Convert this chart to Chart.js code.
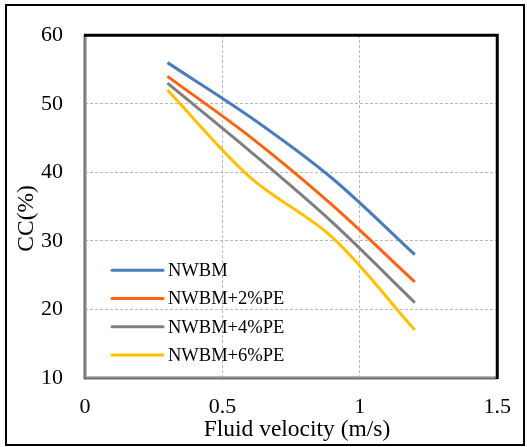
<!DOCTYPE html>
<html>
<head>
<meta charset="utf-8">
<script src="https://cdn.jsdelivr.net/npm/chart.js@4/dist/chart.umd.min.js"></script>
<style>
  html, body { margin: 0; padding: 0; background: #fff; }
  #wrap { width: 527px; height: 447px; }
</style>
</head>
<body>
<div id="wrap"><canvas id="ccChart" width="527" height="447"></canvas></div>
<script>
// data
const velocity = [0.3, 0.6, 0.9, 1.2];
const seriesNames = ['NWBM', 'NWBM+2%PE', 'NWBM+4%PE', 'NWBM+6%PE'];
const nwbm = [56, 48.1, 39.1, 28];
const nwbm2 = [54, 45.2, 35.2, 24];
const nwbm4 = [53, 43.1, 32.7, 21];
const nwbm6 = [52, 39.3, 30.5, 17];
const xTickLabels = ['0', '0.5', '1', '1.5'];
const yTickLabels = ['10', '20', '30', '40', '50', '60'];

const colors = ['#4a7ebb', '#ff6310', '#7f7f7f', '#ffc000'];
const serif = "'Liberation Serif', 'Times New Roman', serif";

const toPoints = vals => vals.map((v, i) => ({ x: velocity[i], y: v }));

// outer frame + plot border
const framePlugin = {
  id: 'frame',
  afterDraw(chart) {
    const { ctx, chartArea: a } = chart;
    ctx.save();
    ctx.strokeStyle = '#000';
    ctx.lineWidth = 2;
    ctx.strokeRect(6, 5, 518, 440);

    // left + bottom: grey edge
    ctx.strokeStyle = '#6e6e6e';
    ctx.lineWidth = 3;
    ctx.beginPath();
    ctx.moveTo(a.left, a.top);
    ctx.lineTo(a.left, a.bottom);
    ctx.lineTo(a.right, a.bottom);
    ctx.stroke();
    ctx.strokeStyle = '#b4b4b4';
    ctx.lineWidth = 1;
    ctx.beginPath();
    ctx.moveTo(a.left + 1, a.top);
    ctx.lineTo(a.left + 1, a.bottom - 1);
    ctx.lineTo(a.right, a.bottom - 1);
    ctx.stroke();

    // top + right: black
    ctx.strokeStyle = '#000';
    ctx.lineWidth = 3;
    ctx.beginPath();
    ctx.moveTo(a.left - 1, a.top);
    ctx.lineTo(a.right, a.top);
    ctx.lineTo(a.right, a.bottom + 1);
    ctx.stroke();
    ctx.restore();
  }
};

// legend inside the plot, lower left
const insideLegend = {
  id: 'insideLegend',
  afterDatasetsDraw(chart) {
    const { ctx, chartArea: a } = chart;
    const x0 = a.left + 27;
    const y0 = a.top + 235;
    ctx.save();
    ctx.font = '18.5px ' + serif;
    ctx.textBaseline = 'middle';
    ctx.fillStyle = '#000';
    chart.data.datasets.forEach((ds, i) => {
      const y = y0 + i * 28.3;
      ctx.strokeStyle = ds.borderColor;
      ctx.lineWidth = 3;
      ctx.lineCap = 'round';
      ctx.beginPath();
      ctx.moveTo(x0, y);
      ctx.lineTo(x0 + 51, y);
      ctx.stroke();
      ctx.fillText(ds.label, x0 + 56, y + 1);
    });
    ctx.restore();
  }
};

const ctx = document.getElementById('ccChart');
new Chart(ctx, {
  type: 'line',
  data: {
    datasets: [nwbm, nwbm2, nwbm4, nwbm6].map((vals, i) => ({
      label: seriesNames[i],
      data: toPoints(vals),
      borderColor: colors[i],
      backgroundColor: colors[i],
      borderWidth: 3,
      pointRadius: 0,
      tension: 0.33,
      fill: false
    }))
  },
  options: {
    responsive: false,
    animation: false,
    layout: { padding: { left: 0, top: 27, right: 29, bottom: 0 } },
    plugins: {
      legend: { display: false },
      tooltip: { enabled: false }
    },
    scales: {
      x: {
        type: 'linear',
        min: 0,
        max: 1.5,
        afterFit(scale) { scale.height = 69; },
        ticks: {
          stepSize: 0.5,
          padding: 16,
          color: '#000',
          font: { family: serif, size: 22 },
          callback: (v, i) => xTickLabels[i]
        },
        grid: {
          color: '#b8b8b8',
          lineWidth: 1,
          drawTicks: false
        },
        border: { display: false, dash: [3, 2] },
        title: {
          display: true,
          text: '  Fluid velocity (m/s)',
          color: '#000',
          font: { family: serif, size: 23.5, lineHeight: 1 },
          padding: { top: 0, bottom: 5 }
        }
      },
      y: {
        min: 10,
        max: 60,
        afterFit(scale) { scale.width = 85; },
        ticks: {
          stepSize: 10,
          padding: 22,
          color: '#000',
          font: { family: serif, size: 22 },
          callback: (v, i) => yTickLabels[i]
        },
        grid: {
          color: '#b8b8b8',
          lineWidth: 1,
          drawTicks: false
        },
        border: { display: false, dash: [3, 2] },
        title: {
          display: true,
          text: 'CC(%)    ',
          color: '#000',
          font: { family: serif, size: 23.5, lineHeight: 1 },
          padding: { top: 15, bottom: 0 }
        }
      }
    }
  },
  plugins: [insideLegend, framePlugin]
});
</script>
</body>
</html>
